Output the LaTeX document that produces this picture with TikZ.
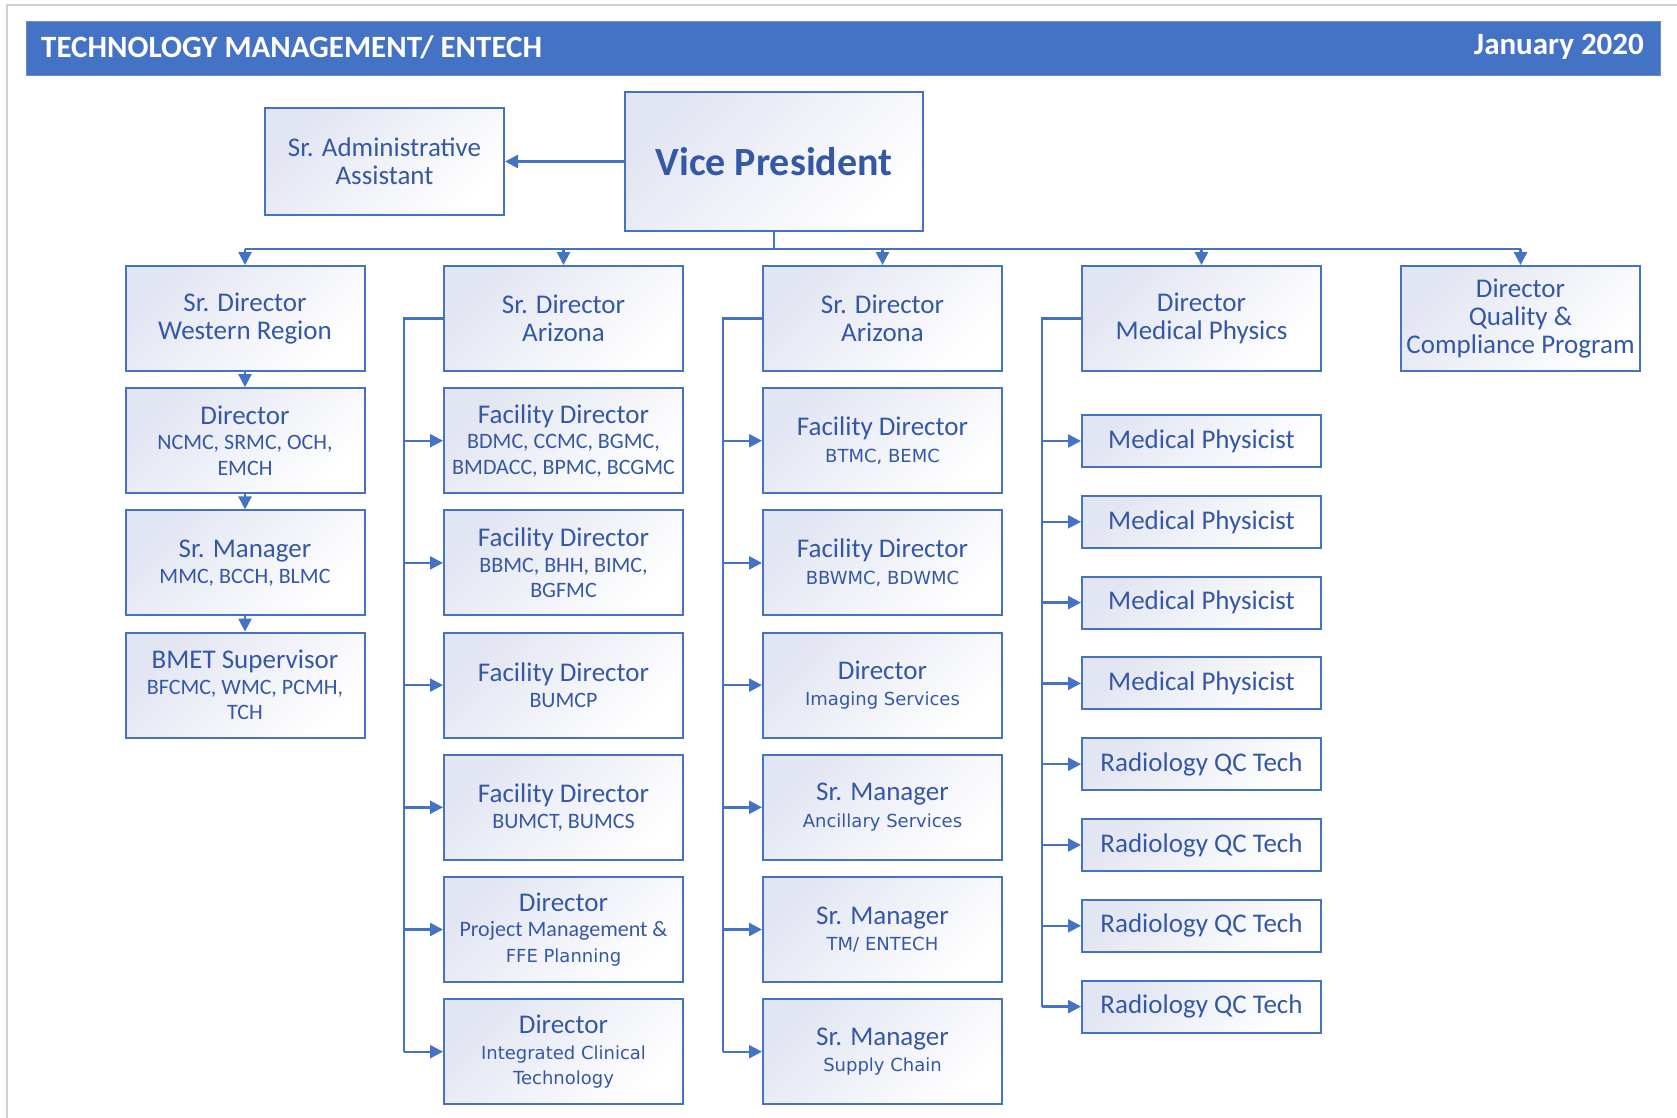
\documentclass[tikz,border=0pt]{standalone}
\usepackage{fontspec}
\setmainfont{Carlito}
\newfontfamily\altfont{DejaVu Sans}
\usetikzlibrary{arrows.meta,calc}
\definecolor{lineblue}{RGB}{68,114,196}
\definecolor{textblue}{RGB}{52,88,166}
\definecolor{boxtl}{RGB}{226,229,242}
\definecolor{framegray}{RGB}{210,210,210}
\newcommand\mainsz{\fontsize{27}{25.5}\selectfont\lineskiplimit=-30pt}
\newcommand\subsz{\fontsize{22}{25.5}\selectfont}
\newcommand\altsz{\altfont\fontsize{18}{25.5}\selectfont}
\tikzset{
  orgbox/.style={draw=lineblue, line width=2pt, top color=boxtl, bottom color=white,
    shading angle=45, minimum width=239pt, minimum height=105pt, align=center,
    text=textblue, font=\mainsz, inner sep=0pt},
  smallbox/.style={orgbox, minimum height=52pt},
  conn/.style={draw=lineblue, line width=2.4pt},
  arr/.style={conn, -{Triangle[length=13pt,width=13pt]}},
}
\begin{document}
\begin{tikzpicture}[x=1pt,y=-1pt]
\useasboundingbox (0,0) rectangle (1677,1118);
\fill[white] (0,0) rectangle (1677,1118);
% outer frame (top and left edges)
\draw[framegray, line width=2pt] (7,1118) -- (7,5) -- (1677,5);
% header
\node[fill=lineblue, draw=lineblue!80, minimum width=1634pt, minimum height=54pt, inner sep=0pt] (hdr) at (843,48) {};
\node[anchor=west, text=white, font=\bfseries\fontsize{31}{34}\selectfont, inner sep=0pt] (ttl) at (41,47) {TECHNOLOGY MANAGEMENT/ ENTECH};
\node[anchor=east, text=white, font=\bfseries\fontsize{31}{34}\selectfont, inner sep=0pt] (dt) at (1644,47) {January 2020};

% top
\node[orgbox, minimum width=298pt, minimum height=139pt, font=\bfseries\fontsize{40}{44}\selectfont] (vp) at (774,161.5) {Vice President};
\node[orgbox, minimum height=106pt] (adm) at (384.5,161.5) {Sr. Administrative\\[2.5pt]Assistant};

% column 1
\node[orgbox] (a0) at (245,318.5) {Sr. Director\\[2.5pt]Western Region};
\node[orgbox] (a1) at (245,440.7) {Director\\{\subsz NCMC, SRMC, OCH,}\\{\subsz EMCH}};
\node[orgbox] (a2) at (245,562.9) {Sr. Manager\\{\subsz MMC, BCCH, BLMC}};
\node[orgbox] (a3) at (245,685.1) {BMET Supervisor\\{\subsz BFCMC, WMC, PCMH,}\\{\subsz TCH}};

% column 2
\node[orgbox] (b0) at (563.5,318.5) {Sr. Director\\[2.5pt]Arizona};
\node[orgbox] (b1) at (563.5,440.7) {Facility Director\\{\subsz BDMC, CCMC, BGMC,}\\{\subsz BMDACC, BPMC, BCGMC}};
\node[orgbox] (b2) at (563.5,562.9) {Facility Director\\{\subsz BBMC, BHH, BIMC,}\\{\subsz BGFMC}};
\node[orgbox] (b3) at (563.5,685.1) {Facility Director\\[1pt]{\subsz BUMCP}};
\node[orgbox] (b4) at (563.5,807.3) {Facility Director\\[1pt]{\subsz BUMCT, BUMCS}};
\node[orgbox] (b5) at (563.5,929.5) {Director\\{\subsz Project Management \&}\\{\altsz FFE Planning}};
\node[orgbox] (b6) at (563.5,1051.7) {Director\\{\altsz Integrated Clinical}\\{\altsz Technology}};

% column 3
\node[orgbox] (c0) at (882.5,318.5) {Sr. Director\\[2.5pt]Arizona};
\node[orgbox] (c1) at (882.5,440.7) {Facility Director\\[1pt]{\altsz BTMC, BEMC}};
\node[orgbox] (c2) at (882.5,562.9) {Facility Director\\[1pt]{\altsz BBWMC, BDWMC}};
\node[orgbox] (c3) at (882.5,685.1) {Director\\[1pt]{\altsz Imaging Services}};
\node[orgbox] (c4) at (882.5,807.3) {Sr. Manager\\[1pt]{\altsz Ancillary Services}};
\node[orgbox] (c5) at (882.5,929.5) {Sr. Manager\\[1pt]{\altsz TM/ ENTECH}};
\node[orgbox] (c6) at (882.5,1051.7) {Sr. Manager\\[1pt]{\altsz Supply Chain}};

% column 4
\node[orgbox] (d0) at (1201.5,318.5) {Director\\[2.5pt]Medical Physics};
\node[smallbox] (d1) at (1201.5,441) {Medical Physicist};
\node[smallbox] (d2) at (1201.5,521.8) {Medical Physicist};
\node[smallbox] (d3) at (1201.5,602.6) {Medical Physicist};
\node[smallbox] (d4) at (1201.5,683.4) {Medical Physicist};
\node[smallbox] (d5) at (1201.5,764.2) {Radiology QC Tech};
\node[smallbox] (d6) at (1201.5,845) {Radiology QC Tech};
\node[smallbox] (d7) at (1201.5,925.8) {Radiology QC Tech};
\node[smallbox] (d8) at (1201.5,1006.6) {Radiology QC Tech};

% column 5
\node[orgbox] (e0) at (1520.5,318.5) {Director\\[2.5pt]Quality \&\\[2.5pt]Compliance Program};

% connectors from VP
\draw[arr] (vp.west) -- (adm.east);
\coordinate (bus) at (0,249);
\draw[conn] (vp.south) -- (vp.south |- bus);
\draw[conn] (a0.north |- bus) -- (e0.north |- bus);
\foreach \n in {a0,b0,c0,d0,e0}{
  \draw[arr] (\n.north |- bus) -- (\n.north);
}

% column 1 chain
\draw[arr] (a0.south) -- (a1.north);
\draw[arr] (a1.south) -- (a2.north);
\draw[arr] (a2.south) -- (a3.north);

% column 2 bracket
\coordinate (tb) at ($(b0.west)+(-39,0)$);
\draw[conn, line join=miter] (b0.west) -- (tb) -- (tb |- b6.west);
\foreach \n in {b1,b2,b3,b4,b5,b6}{
  \draw[arr] (tb |- \n.west) -- (\n.west);
}
% column 3 bracket
\coordinate (tc) at ($(c0.west)+(-39,0)$);
\draw[conn, line join=miter] (c0.west) -- (tc) -- (tc |- c6.west);
\foreach \n in {c1,c2,c3,c4,c5,c6}{
  \draw[arr] (tc |- \n.west) -- (\n.west);
}
% column 4 bracket
\coordinate (td) at ($(d0.west)+(-39,0)$);
\draw[conn, line join=miter] (d0.west) -- (td) -- (td |- d8.west);
\foreach \n in {d1,d2,d3,d4,d5,d6,d7,d8}{
  \draw[arr] (td |- \n.west) -- (\n.west);
}
\end{tikzpicture}
\end{document}
